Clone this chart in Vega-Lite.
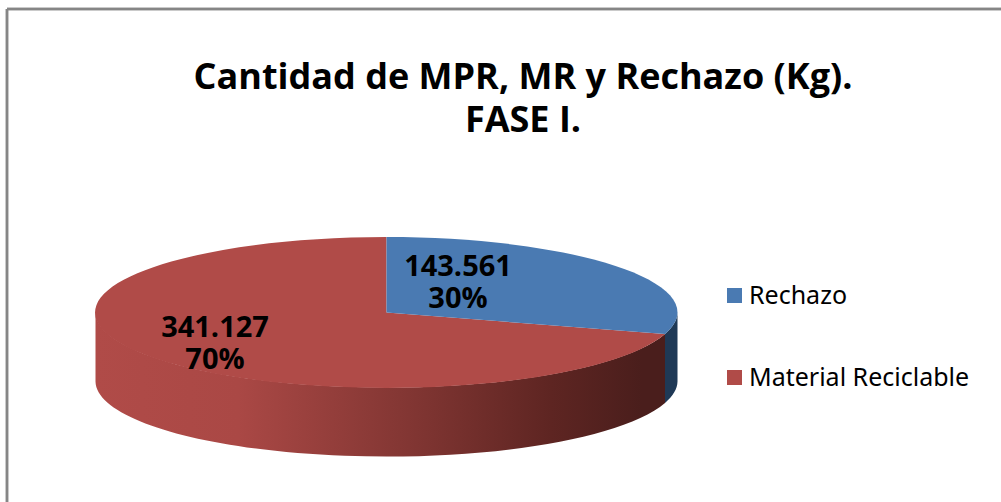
{
"$schema":"https://vega.github.io/schema/vega-lite/v6.json",
"width":994,"height":493,
"autosize":{"type":"none"},
"padding":{"left":7,"top":9,"right":0,"bottom":0},
"background":"white",
"view":{"stroke":null},
"title":{"text":["Cantidad de MPR, MR y Rechazo (Kg).","FASE I."],"font":"Open Sans","fontWeight":"bold","fontSize":36,"lineHeight":43,"color":"#000000","anchor":"middle","frame":"group","dx":19,"offset":-160,"baseline":"alphabetic"},
"data":{"values":[
{"slice":"Rechazo","value":143561,"label":"143.561\n30%"},
{"slice":"Material Reciclable","value":341127,"label":"341.127\n70%"}
]},
"layer":[
{"transform":[{"filter":"datum.slice === 'Material Reciclable'"}],
 "mark":{"type":"point","filled":true,"size":4,"opacity":1,"strokeWidth":0,
 "shape":"M161 78.5 A291 75.5 0 0 1 -408.5 57 L-408.5 126 A291 75.5 0 0 0 161 147.5 Z",
 "fill":{"gradient":"linear","x1":0,"y1":0,"x2":1,"y2":0,"stops":[
 {"offset":0,"color":"#b04b48"},{"offset":0.25,"color":"#aa4845"},{"offset":0.55,"color":"#823633"},{"offset":0.8,"color":"#5e2522"},{"offset":0.96,"color":"#4a1e1c"},{"offset":1,"color":"#4a1e1c"}]}},
 "encoding":{}},
{"transform":[{"filter":"datum.slice === 'Rechazo'"}],
 "mark":{"type":"point","filled":true,"size":4,"opacity":1,"strokeWidth":0,"color":"#1f3956",
 "shape":"M173.5 57 A291 75.5 0 0 1 161 78.5 L161 147.5 A291 75.5 0 0 0 173.5 126 Z"},
 "encoding":{}},
{"transform":[{"filter":"datum.slice === 'Material Reciclable'"}],
 "mark":{"type":"point","filled":true,"size":4,"opacity":1,"strokeWidth":0,
 "shape":"M-117.5 57 L161 78.5 A291 75.5 0 1 1 -117.5 -18.5 Z"},
 "encoding":{
 "color":{"field":"slice","type":"nominal","scale":{"domain":["Rechazo","Material Reciclable"],"range":["#4a7ab2","#b04b48"]},
 "legend":{"title":null,"orient":"none","legendX":715,"legendY":274,"symbolType":"square","symbolSize":225,"symbolStrokeWidth":0,"labelFont":"Noto Sans","labelFontSize":25,"labelColor":"#000000","labelLimit":300,"labelOffset":2,"rowPadding":56}}
 }},
{"transform":[{"filter":"datum.slice === 'Rechazo'"}],
 "mark":{"type":"point","filled":true,"size":4,"opacity":1,"strokeWidth":0,
 "shape":"M-117.5 57 L-117.5 -18.5 A291 75.5 0 0 1 173.5 57 A291 75.5 0 0 1 161 78.5 Z"},
 "encoding":{
 "color":{"field":"slice","type":"nominal","scale":{"domain":["Rechazo","Material Reciclable"],"range":["#4a7ab2","#b04b48"]},
 "legend":{"title":null,"orient":"none","legendX":715,"legendY":274,"symbolType":"square","symbolSize":225,"symbolStrokeWidth":0,"labelFont":"Noto Sans","labelFontSize":25,"labelColor":"#000000","labelLimit":300,"labelOffset":2,"rowPadding":56}}
 }},
{"mark":{"type":"rule","stroke":"#868686","strokeWidth":2.5},
 "encoding":{"x":{"datum":0,"scale":{"domain":[0,1]},"axis":null}}},
{"mark":{"type":"rule","stroke":"#868686","strokeWidth":2.5},
 "encoding":{"y":{"datum":1,"scale":{"domain":[0,1]},"axis":null}}},
{"transform":[{"filter":"datum.slice === 'Rechazo'"}],
 "mark":{"type":"text","font":"Open Sans","fontWeight":"bold","fontSize":29,"lineHeight":32,"lineBreak":"\n","color":"#000000","align":"center","baseline":"middle","dx":-46,"dy":11},
 "encoding":{"text":{"field":"label"}}},
{"transform":[{"filter":"datum.slice === 'Material Reciclable'"}],
 "mark":{"type":"text","font":"Open Sans","fontWeight":"bold","fontSize":29,"lineHeight":32,"lineBreak":"\n","color":"#000000","align":"center","baseline":"middle","dx":-289,"dy":72},
 "encoding":{"text":{"field":"label"}}}
]
}
